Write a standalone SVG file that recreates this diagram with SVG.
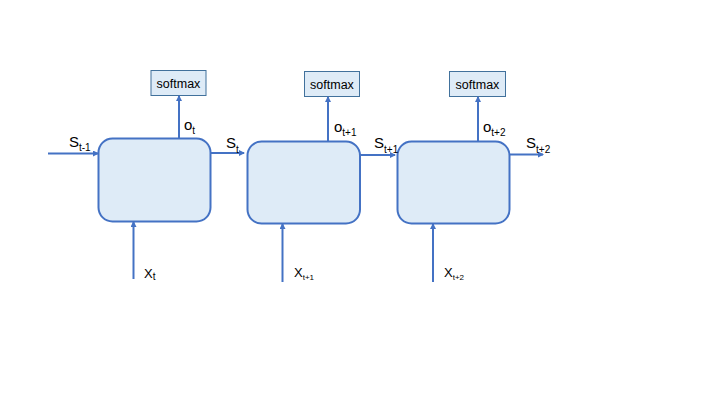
<svg xmlns="http://www.w3.org/2000/svg" width="720" height="405" viewBox="0 0 720 405">
<defs>
<marker id="ah" markerWidth="6" markerHeight="6" refX="5" refY="3" orient="auto" markerUnits="userSpaceOnUse">
<path d="M0,0 L6,3 L0,6 Z" fill="#4472C4"/>
</marker>
<style>
.cell{fill:#DEEBF7;stroke:#4472C4;stroke-width:2}
.sm{fill:#DEEBF7;stroke:#41719C;stroke-width:1}
.smt{font-family:"Liberation Sans",Arial,sans-serif;font-size:12.5px;fill:#000;text-anchor:middle}
.lbl{font-family:"Liberation Sans",Arial,sans-serif;font-size:15px;fill:#000}
.sub{font-size:10px}
.conn line{stroke:#4472C4;stroke-width:2;marker-end:url(#ah)}
</style>
</defs>
<rect width="720" height="405" fill="#fff"/>
<g id="cell1"><rect class="cell" x="98.5" y="138.5" width="112" height="83" rx="14"/></g>
<g id="cell2"><rect class="cell" x="247.5" y="141.5" width="112.5" height="82" rx="14"/></g>
<g id="cell3"><rect class="cell" x="397.5" y="141.5" width="112" height="82" rx="14"/></g>
<g id="softmax1"><rect class="sm" x="151" y="70.5" width="55" height="25"/><text class="smt" x="178.5" y="87.5">softmax</text></g>
<g id="softmax2"><rect class="sm" x="304.5" y="71.5" width="55" height="25"/><text class="smt" x="332" y="88.5">softmax</text></g>
<g id="softmax3"><rect class="sm" x="449.5" y="71.5" width="56" height="25"/><text class="smt" x="477.5" y="88.5">softmax</text></g>
<g class="conn" id="connectors">
<line x1="48" y1="153.5" x2="98" y2="153.5"/>
<line x1="210.5" y1="153" x2="244" y2="153"/>
<line x1="360" y1="155" x2="395" y2="155"/>
<line x1="509.5" y1="154.5" x2="543" y2="154.5"/>
<line x1="179" y1="138" x2="179" y2="96"/>
<line x1="328" y1="141" x2="328" y2="97"/>
<line x1="478" y1="141" x2="478" y2="97"/>
<line x1="133.5" y1="279" x2="133.5" y2="222"/>
<line x1="282.5" y1="282" x2="282.5" y2="224"/>
<line x1="433" y1="282" x2="433" y2="224"/>
</g>
<g id="labels">
<text class="lbl" x="69" y="147">S<tspan class="sub" dy="4">t-1</tspan></text>
<text class="lbl" x="226" y="147.5">S<tspan class="sub" dy="5">t</tspan></text>
<text class="lbl" x="374" y="147.5">S<tspan class="sub" dy="5">t+1</tspan></text>
<text class="lbl" x="526" y="147.5">S<tspan class="sub" dy="5">t+2</tspan></text>
<text class="lbl" x="184" y="129.5">o<tspan class="sub" dy="4">t</tspan></text>
<text class="lbl" x="334" y="131.5">o<tspan class="sub" dy="4">t+1</tspan></text>
<text class="lbl" x="483" y="131.5">o<tspan class="sub" dy="4">t+2</tspan></text>
<text class="lbl" x="144" y="277.5" style="font-size:13px">X<tspan class="sub" dy="2">t</tspan></text>
<text class="lbl" x="294" y="277" style="font-size:13px">X<tspan class="sub" style="font-size:8px" dy="3">t+1</tspan></text>
<text class="lbl" x="444" y="277" style="font-size:13px">X<tspan class="sub" style="font-size:8px" dy="3">t+2</tspan></text>
</g>
</svg>
